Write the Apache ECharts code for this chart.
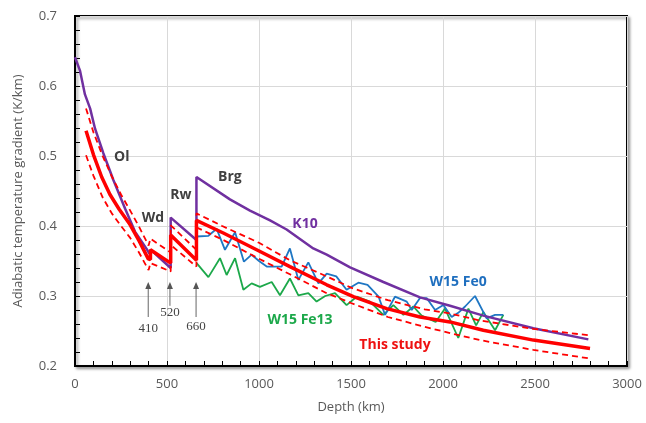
<!DOCTYPE html>
<html><head><meta charset="utf-8">
<script src="https://cdn.jsdelivr.net/npm/echarts@6/dist/echarts.min.js"></script>
<style>html,body{margin:0;padding:0;background:#fff}#c{width:646px;height:423px}</style>
</head><body><div id="c"></div>
<script>
// K10 (purple)
const k10Depth = [0,27,54,82,109,154,208,272,326,390,405,412,520,520,660,660,842,951,1060,1150,1295,1368,1495,1676,1875,2038,2219,2491,2790];
const k10Grad  = [0.641,0.622,0.588,0.568,0.539,0.504,0.466,0.425,0.392,0.367,0.360,0.366,0.340,0.412,0.380,0.470,0.438,0.422,0.408,0.395,0.368,0.359,0.341,0.320,0.298,0.286,0.272,0.254,0.238];
// This study (red solid) and bounds (red dashed)
const studyDepth = [60,100,145,190,240,299,350,398,410,410,520,520,660,660,806,987,1168,1368,1513,1694,1875,2038,2219,2491,2799];
const studyGrad  = [0.536,0.502,0.470,0.445,0.424,0.402,0.378,0.353,0.352,0.366,0.347,0.387,0.351,0.408,0.390,0.366,0.342,0.316,0.299,0.282,0.270,0.263,0.251,0.237,0.225];
const upperDepth = [60,100,150,200,250,300,350,400,410,410,520,520,660,660,800,1000,1168,1368,1500,1700,1900,2038,2200,2491,2790];
const upperGrad  = [0.568,0.534,0.500,0.471,0.445,0.422,0.398,0.372,0.370,0.382,0.362,0.401,0.366,0.418,0.400,0.376,0.351,0.328,0.312,0.294,0.281,0.275,0.265,0.253,0.244];
const lowerDepth = [60,100,150,200,250,300,350,400,410,410,520,520,660,660,806,987,1168,1368,1500,1700,1900,2038,2200,2491,2790];
const lowerGrad  = [0.501,0.472,0.441,0.418,0.400,0.383,0.361,0.337,0.337,0.347,0.335,0.373,0.342,0.398,0.380,0.355,0.331,0.304,0.290,0.270,0.256,0.247,0.237,0.223,0.211];
// W15 Fe0 (blue)
const fe0Depth = [661,725,770,815,870,918,960,1000,1042,1087,1123,1168,1214,1268,1323,1368,1420,1476,1540,1590,1650,1685,1739,1803,1830,1875,1911,1957,2002,2047,2083,2120,2174,2237,2283,2328];
const fe0Grad  = [0.385,0.386,0.396,0.366,0.391,0.349,0.359,0.350,0.342,0.342,0.342,0.368,0.323,0.348,0.318,0.332,0.328,0.309,0.319,0.316,0.299,0.273,0.299,0.292,0.280,0.297,0.297,0.280,0.287,0.270,0.276,0.285,0.300,0.268,0.273,0.273];
// W15 Fe13 (green)
const fe13Depth = [661,725,788,824,870,915,960,1005,1069,1114,1168,1214,1268,1313,1360,1413,1476,1531,1603,1676,1730,1785,1839,1884,1960,2011,2083,2138,2180,2219,2283,2328];
const fe13Grad  = [0.347,0.327,0.354,0.330,0.354,0.309,0.318,0.313,0.320,0.301,0.325,0.301,0.304,0.292,0.300,0.304,0.287,0.299,0.292,0.273,0.287,0.273,0.285,0.272,0.263,0.282,0.240,0.282,0.258,0.277,0.251,0.273];
// axis ticks
const xTicks = [0,500,1000,1500,2000,2500,3000];
const yTicks = [0.2,0.3,0.4,0.5,0.6,0.7];
// annotations (data coords)
const notes = [
  {t:'Ol', x:254, y:0.499, c:'#404040'},
  {t:'Wd', x:424, y:0.411, c:'#404040'},
  {t:'Rw', x:576, y:0.444, c:'#404040'},
  {t:'Brg', x:842, y:0.470, c:'#404040'},
  {t:'K10', x:1250, y:0.403, c:'#7030a0'},
  {t:'W15 Fe0', x:2082, y:0.320, c:'#1f6fbf'},
  {t:'W15 Fe13', x:1223, y:0.266, c:'#1ca84a'},
  {t:'This study', x:1739, y:0.230, c:'#ee1111'}
];
const arrows = [
  {t:'410', x:398, y0:0.270, y1:0.320, ly:0.254},
  {t:'520', x:516, y0:0.286, y1:0.320, ly:0.276},
  {t:'660', x:658, y0:0.270, y1:0.320, ly:0.257}
];
const zip = (a,b)=>a.map((v,i)=>[v,b[i]]);
const chart = echarts.init(document.getElementById('c'));
const FONT = '"Open Sans", sans-serif';
const lineS = (data,color,width,type,z)=>({type:'line',data,symbol:'none',smooth:false,z:z||2,
  lineStyle:{color,width,type:type||'solid'},animation:false});
chart.setOption({
  animation:false,
  grid:{left:75,right:19,top:16,bottom:57,show:true,borderColor:'#000',borderWidth:2,backgroundColor:'#fff',
    shadowColor:'rgba(0,0,0,0.35)',shadowBlur:3,shadowOffsetX:2,shadowOffsetY:2},
  xAxis:{type:'value',min:xTicks[0],max:xTicks[xTicks.length-1],interval:500,
    name:'Depth (km)',nameLocation:'middle',nameGap:35,
    nameTextStyle:{fontFamily:FONT,fontSize:13,color:'#595959'},
    axisLine:{show:true,lineStyle:{color:'#000',width:2}},
    axisTick:{show:true,inside:true,length:5,lineStyle:{color:'#000'}},
    minorTick:{show:true,splitNumber:5,length:5,lineStyle:{color:'#000'}},
    axisLabel:{fontFamily:FONT,fontSize:13,color:'#595959',margin:12,formatter:v=>String(v)},
    splitLine:{show:true,lineStyle:{color:'#d9d9d9',width:1}}},
  yAxis:{type:'value',min:yTicks[0],max:yTicks[yTicks.length-1],interval:0.1,
    name:'Adiabatic temperature gradient (K/km)',nameLocation:'middle',nameGap:50,
    nameTextStyle:{fontFamily:FONT,fontSize:13,color:'#595959'},
    axisLine:{show:true,lineStyle:{color:'#000',width:2}},
    axisTick:{show:true,inside:true,length:5,lineStyle:{color:'#000'}},
    minorTick:{show:true,splitNumber:5,length:5,lineStyle:{color:'#000'}},
    axisLabel:{fontFamily:FONT,fontSize:13,color:'#595959',margin:18,formatter:v=>v.toFixed(1)},
    splitLine:{show:true,lineStyle:{color:'#d9d9d9',width:1}}},
  series:[
    lineS(zip(fe13Depth,fe13Grad),'#1ca84a',1.8,'solid',2),
    lineS(zip(fe0Depth,fe0Grad),'#1f77c4',1.8,'solid',3),
    lineS(zip(k10Depth,k10Grad),'#7030a0',2.5,'solid',4),
    lineS(zip(upperDepth,upperGrad),'#ff0000',1.8,[6,4],5),
    lineS(zip(lowerDepth,lowerGrad),'#ff0000',1.8,[6,4],5),
    lineS(zip(studyDepth,studyGrad),'#ff0000',3.5,'solid',6)
  ]
});
const g = [];
notes.forEach(n=>{
  const p = chart.convertToPixel({gridIndex:0},[n.x,n.y]);
  g.push({type:'text',x:p[0],y:p[1],z:10,style:{text:n.t,fill:n.c,font:'bold 14px '+FONT,align:'center',verticalAlign:'middle'}});
});
arrows.forEach(a=>{
  const p0 = chart.convertToPixel({gridIndex:0},[a.x,a.y0]);
  const p1 = chart.convertToPixel({gridIndex:0},[a.x,a.y1]);
  const pl = chart.convertToPixel({gridIndex:0},[a.x,a.ly]);
  g.push({type:'line',z:10,shape:{x1:p0[0],y1:p0[1],x2:p1[0],y2:p1[1]+3},style:{stroke:'#666',lineWidth:1}});
  g.push({type:'polygon',z:10,shape:{points:[[p1[0],p1[1]],[p1[0]-3,p1[1]+7],[p1[0]+3,p1[1]+7]]},style:{fill:'#555'}});
  g.push({type:'text',x:pl[0],y:pl[1],z:10,style:{text:a.t,fill:'#444',font:'13px "Liberation Serif", serif',align:'center',verticalAlign:'middle'}});
});
chart.setOption({graphic:g});
</script></body></html>
